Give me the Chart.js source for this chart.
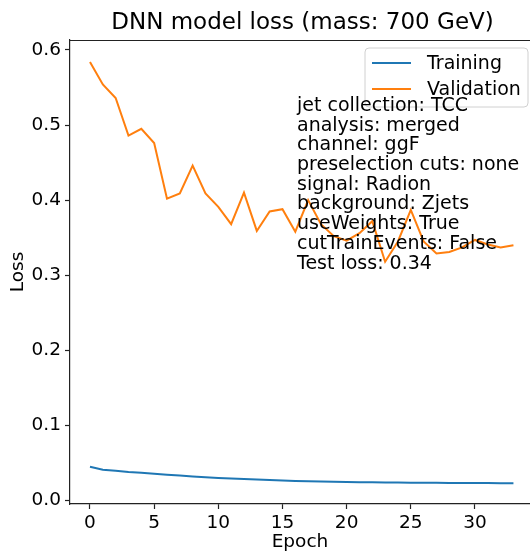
<!DOCTYPE html>
<html><head><meta charset="utf-8">
<script src="https://cdn.jsdelivr.net/npm/chart.js@4.4.0/dist/chart.umd.min.js"></script>
<style>html,body{margin:0;padding:0;background:#fff;overflow:hidden}</style>
</head><body>
<canvas id="c" width="530" height="551"></canvas>
<script>
const epochs = [0,1,2,3,4,5,6,7,8,9,10,11,12,13,14,15,16,17,18,19,20,21,22,23,24,25,26,27,28,29,30,31,32,33];
const trainingLoss = [0.045,0.041,0.0395,0.038,0.037,0.0355,0.0343,0.0332,0.032,0.031,0.030,0.0292,0.0285,0.0278,0.0272,0.0266,0.026,0.0256,0.0252,0.0249,0.0246,0.0244,0.0242,0.024,0.0238,0.0237,0.0236,0.0235,0.0234,0.0233,0.0232,0.0232,0.0231,0.0231];
const validationLoss = [0.584,0.554,0.536,0.486,0.495,0.476,0.402,0.409,0.446,0.409,0.391,0.368,0.410,0.359,0.385,0.388,0.358,0.400,0.368,0.352,0.346,0.356,0.372,0.318,0.345,0.387,0.345,0.329,0.331,0.337,0.347,0.341,0.337,0.340];
const seriesLabels = ['Training','Validation'];
const seriesColors = ['#1f77b4','#ff7f0e'];
const xTicks = [0,5,10,15,20,25,30];
const yTicks = [0.0,0.1,0.2,0.3,0.4,0.5,0.6];
const titleText = 'DNN model loss (mass: 700 GeV)';
const xLabel = 'Epoch';
const yLabel = 'Loss';
const infoLines = ['jet collection: TCC','analysis: merged','channel: ggF','preselection cuts: none','signal: Radion','background: Zjets','useWeights: True','cutTrainEvents: False','Test loss: 0.34'];

const FONT = "'DejaVu Sans', sans-serif";

const overlay = {
  id: 'overlay',
  afterDatasetsDraw(chart) {
    const ctx = chart.ctx, a = chart.chartArea;
    ctx.save();
    // top spine
    ctx.strokeStyle = '#222'; ctx.lineWidth = 1.2;
    ctx.beginPath(); ctx.moveTo(a.left, a.top + 0.5); ctx.lineTo(chart.width, a.top + 0.5); ctx.stroke();
    // legend
    const lx = 365, ly = 48, lw = 163, lh = 59, r = 4;
    ctx.beginPath();
    ctx.moveTo(lx + r, ly); ctx.lineTo(lx + lw - r, ly); ctx.quadraticCurveTo(lx + lw, ly, lx + lw, ly + r);
    ctx.lineTo(lx + lw, ly + lh - r); ctx.quadraticCurveTo(lx + lw, ly + lh, lx + lw - r, ly + lh);
    ctx.lineTo(lx + r, ly + lh); ctx.quadraticCurveTo(lx, ly + lh, lx, ly + lh - r);
    ctx.lineTo(lx, ly + r); ctx.quadraticCurveTo(lx, ly, lx + r, ly); ctx.closePath();
    ctx.fillStyle = 'rgba(255,255,255,0.8)'; ctx.fill();
    ctx.strokeStyle = '#d0d0d0'; ctx.lineWidth = 1; ctx.stroke();
    ctx.font = '19px ' + FONT; ctx.textBaseline = 'middle'; ctx.textAlign = 'left';
    chart.data.datasets.forEach((ds, i) => {
      const y = 63 + i * 26;
      ctx.strokeStyle = ds.borderColor; ctx.lineWidth = 2;
      ctx.beginPath(); ctx.moveTo(372, y); ctx.lineTo(411, y); ctx.stroke();
      ctx.fillStyle = '#000'; ctx.fillText(ds.label, 427, y + 1);
    });
    // annotation text
    ctx.fillStyle = '#000';
    infoLines.forEach((t, i) => ctx.fillText(t, 297, 106 + i * 19.7));
    ctx.restore();
  },
  afterDraw(chart) {
    const ctx = chart.ctx, a = chart.chartArea;
    ctx.save();
    ctx.font = '23px ' + FONT; ctx.fillStyle = '#000';
    ctx.textAlign = 'center'; ctx.textBaseline = 'middle';
    ctx.fillText(titleText, (a.left + 535) / 2, 23);
    ctx.restore();
  }
};

new Chart(document.getElementById('c'), {
  type: 'line',
  data: {
    datasets: [
      { label: seriesLabels[0], data: epochs.map((e, i) => ({x: e, y: trainingLoss[i]})), borderColor: seriesColors[0], borderWidth: 2, pointRadius: 0, tension: 0, fill: false },
      { label: seriesLabels[1], data: epochs.map((e, i) => ({x: e, y: validationLoss[i]})), borderColor: seriesColors[1], borderWidth: 2, pointRadius: 0, tension: 0, fill: false }
    ]
  },
  options: {
    responsive: false, animation: false, devicePixelRatio: 1,
    layout: { padding: { top: 40, right: 0, left: 0, bottom: 0 } },
    plugins: { legend: { display: false }, title: { display: false }, tooltip: { enabled: false } },
    scales: {
      x: {
        type: 'linear', min: -1.558, max: 34.29,
        afterFit: s => { s.height = 47; },
        afterBuildTicks: s => { s.ticks = xTicks.map(v => ({value: v})); },
        ticks: { font: { family: FONT, size: 18.5 }, color: '#000', padding: 3, maxRotation: 0, callback: v => String(v) },
        grid: { drawOnChartArea: false, drawTicks: true, tickLength: 5, tickColor: '#222', tickWidth: 1.2 },
        border: { display: true, color: '#222', width: 1.2 },
        title: { display: true, text: xLabel, font: { family: FONT, size: 18.5, lineHeight: 1 }, color: '#000', padding: { top: 0, bottom: 0 } }
      },
      y: {
        type: 'linear', min: -0.0047, max: 0.6133,
        afterFit: s => { s.width = 70; },
        afterBuildTicks: s => { s.ticks = yTicks.map(v => ({value: v})); },
        ticks: { font: { family: FONT, size: 18.5 }, color: '#000', padding: 4, callback: v => Number(v).toFixed(1) },
        grid: { drawOnChartArea: false, drawTicks: true, tickLength: 5, tickColor: '#222', tickWidth: 1.2 },
        border: { display: true, color: '#222', width: 1.2 },
        title: { display: true, text: yLabel, font: { family: FONT, size: 18.5, lineHeight: 1 }, color: '#000', padding: { top: 9, bottom: 0 } }
      }
    }
  },
  plugins: [overlay]
});
</script>
</body></html>
